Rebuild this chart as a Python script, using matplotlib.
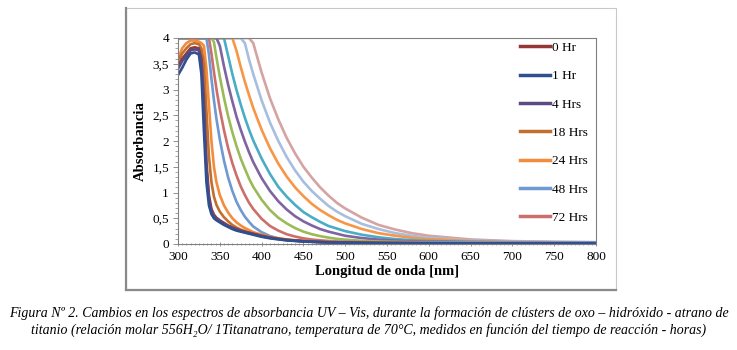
import matplotlib.pyplot as plt
from matplotlib.ticker import MultipleLocator, FuncFormatter
from matplotlib.patches import Rectangle
from matplotlib.lines import Line2D

# ---- wavelength grid (nm) ----
wl = [300, 305, 310, 315, 320, 325, 328, 331, 334, 337, 340, 343, 346, 350, 355, 360, 365,
      370, 375, 380, 385, 390, 400, 410, 420, 430, 440, 450, 460, 470, 480, 490, 500,
      520, 540, 560, 580, 600, 650, 700, 750, 800]

# ---- absorbance ----
hr0 = [3.45, 3.6, 3.7, 3.8, 3.82, 3.8, 3.6, 2.8, 1.6, 0.95, 0.68, 0.57, 0.51, 0.46, 0.41, 0.36, 0.32,
       0.29, 0.26, 0.24, 0.22, 0.2, 0.16, 0.125, 0.1, 0.08, 0.066, 0.055, 0.047, 0.04, 0.035, 0.031, 0.028,
       0.023, 0.02, 0.018, 0.016, 0.015, 0.013, 0.012, 0.011, 0.01]
hr1 = [3.28, 3.42, 3.58, 3.7, 3.72, 3.68, 3.3, 2.2, 1.2, 0.75, 0.58, 0.5, 0.46, 0.42, 0.37, 0.33, 0.29,
       0.26, 0.24, 0.22, 0.2, 0.18, 0.14, 0.11, 0.09, 0.07, 0.06, 0.05, 0.042, 0.036, 0.031, 0.027, 0.024,
       0.02, 0.017, 0.015, 0.014, 0.013, 0.011, 0.01, 0.01, 0.01]
hr4 = [3.4, 3.55, 3.65, 3.76, 3.78, 3.76, 3.5, 2.6, 1.45, 0.88, 0.64, 0.54, 0.49, 0.44, 0.39, 0.35, 0.31,
       0.28, 0.25, 0.23, 0.21, 0.19, 0.15, 0.12, 0.095, 0.075, 0.063, 0.053, 0.045, 0.038, 0.033, 0.029, 0.026,
       0.022, 0.019, 0.017, 0.015, 0.014, 0.012, 0.011, 0.01, 0.01]
hr18 = [3.55, 3.7, 3.8, 3.88, 3.9, 3.88, 3.8, 3.5, 2.6, 1.7, 1.2, 0.92, 0.76, 0.63, 0.52, 0.44, 0.37,
        0.32, 0.28, 0.25, 0.22, 0.2, 0.16, 0.13, 0.105, 0.085, 0.07, 0.058, 0.05, 0.043, 0.037, 0.033, 0.03,
        0.025, 0.022, 0.019, 0.017, 0.016, 0.014, 0.012, 0.011, 0.01]
hr24 = [3.6, 3.8, 3.9, 3.95, 3.95, 3.93, 3.9, 3.85, 3.4, 2.7, 2.0, 1.5, 1.2, 0.95, 0.75, 0.61, 0.5,
        0.42, 0.36, 0.31, 0.27, 0.23, 0.18, 0.14, 0.11, 0.09, 0.072, 0.06, 0.05, 0.044, 0.038, 0.034, 0.03,
        0.026, 0.023, 0.02, 0.018, 0.017, 0.015, 0.013, 0.012, 0.011]
hr48 = [4, 4, 4, 4, 4, 4, 4, 4, 4, 3.68, 3.21, 2.79, 2.43, 2.03, 1.62, 1.29, 1.03,
        0.82, 0.66, 0.53, 0.43, 0.34, 0.23, 0.155, 0.109, 0.08, 0.061, 0.05, 0.042, 0.038, 0.035, 0.034, 0.033,
        0.032, 0.031, 0.03, 0.03, 0.03, 0.03, 0.03, 0.03, 0.03]
hr72 = [4, 4, 4, 4, 4, 4, 4, 4, 4, 4, 3.70, 3.34, 3.01, 2.62, 2.21, 1.86, 1.57,
        1.33, 1.12, 0.95, 0.80, 0.68, 0.49, 0.35, 0.26, 0.19, 0.145, 0.11, 0.087, 0.071, 0.059, 0.05, 0.044,
        0.037, 0.034, 0.032, 0.031, 0.03, 0.03, 0.03, 0.03, 0.03]
s8 = [4, 4, 4, 4, 4, 4, 4, 4, 4, 4, 4, 3.92, 3.62, 3.25, 2.84, 2.48, 2.17,
      1.90, 1.66, 1.46, 1.27, 1.11, 0.86, 0.66, 0.51, 0.40, 0.31, 0.24, 0.19, 0.153, 0.124, 0.10, 0.085,
      0.062, 0.048, 0.041, 0.036, 0.034, 0.031, 0.03, 0.03, 0.03]
s9 = [4, 4, 4, 4, 4, 4, 4, 4, 4, 4, 4, 4, 4, 3.85, 3.45, 3.09, 2.77,
      2.47, 2.22, 1.99, 1.78, 1.59, 1.28, 1.03, 0.83, 0.67, 0.54, 0.44, 0.36, 0.29, 0.24, 0.20, 0.16,
      0.115, 0.085, 0.065, 0.052, 0.044, 0.035, 0.032, 0.031, 0.03]
s10 = [4, 4, 4, 4, 4, 4, 4, 4, 4, 4, 4, 4, 4, 4, 4, 3.65, 3.30,
       2.99, 2.71, 2.45, 2.22, 2.01, 1.66, 1.36, 1.11, 0.92, 0.76, 0.62, 0.52, 0.43, 0.35, 0.30, 0.25,
       0.18, 0.13, 0.095, 0.074, 0.059, 0.041, 0.034, 0.031, 0.03]
s11 = [4, 4, 4, 4, 4, 4, 4, 4, 4, 4, 4, 4, 4, 4, 4, 4, 4,
       3.75, 3.44, 3.15, 2.89, 2.64, 2.22, 1.86, 1.56, 1.31, 1.10, 0.93, 0.78, 0.66, 0.56, 0.47, 0.40,
       0.29, 0.21, 0.16, 0.12, 0.093, 0.056, 0.041, 0.035, 0.032]
s12 = [4, 4, 4, 4, 4, 4, 4, 4, 4, 4, 4, 4, 4, 4, 4, 4, 4,
       4, 4, 3.90, 3.58, 3.30, 2.79, 2.36, 2.00, 1.69, 1.43, 1.21, 1.03, 0.88, 0.74, 0.63, 0.54,
       0.39, 0.29, 0.21, 0.16, 0.12, 0.07, 0.047, 0.038, 0.033]
s13 = [4, 4, 4, 4, 4, 4, 4, 4, 4, 4, 4, 4, 4, 4, 4, 4, 4,
       4, 4, 4, 4, 3.90, 3.33, 2.83, 2.42, 2.06, 1.76, 1.50, 1.29, 1.10, 0.94, 0.80, 0.69,
       0.51, 0.37, 0.28, 0.21, 0.16, 0.088, 0.056, 0.042, 0.035]

labels = ['0 Hr', '1 Hr', '4 Hrs', '18 Hrs', '24 Hrs', '48 Hrs', '72 Hrs']
series = [hr0, hr1, hr4, hr18, hr24, hr48, hr72, s8, s9, s10, s11, s12, s13]
colors = ['#953735', '#2F4F8F', '#5C4A85', '#C0702E', '#F28C3C', '#6F99D0', '#CC6F6C',
          '#9BBB59', '#8064A2', '#4BACC6', '#F79646', '#A8BEDF', '#D4A3A2']
# drawing order so the dark blue sits on top of the steep group
order = [12, 11, 10, 9, 8, 7, 6, 5, 4, 3, 0, 2, 1]

serif = ['Liberation Serif', 'DejaVu Serif']
plt.rcParams['font.family'] = serif

fig = plt.figure(figsize=(7.37, 3.5), dpi=100)
W, H = 737, 350

# chart border
fig.patches.append(Rectangle((126 / W, 1 - 290 / H), 490 / W, 282 / H, transform=fig.transFigure,
                             fill=False, edgecolor='#c8c8c8', linewidth=0.8))
fig.add_artist(Line2D([126 / W, 126 / W], [1 - 290 / H, 1 - 8 / H], color='#8a8a8a', lw=1.6))
fig.add_artist(Line2D([126 / W, 616 / W], [1 - 290 / H, 1 - 290 / H], color='#8a8a8a', lw=1.6))

ax = fig.add_axes([178 / W, 1 - 244 / H, 418 / W, 206 / H])
for i in order:
    ax.plot(wl, series[i], color=colors[i], lw=1.9, solid_joinstyle='round',
            label=labels[i] if i < 7 else None)

ax.set_xlim(300, 800)
ax.set_ylim(0, 4)
ax.xaxis.set_major_locator(MultipleLocator(50))
ax.xaxis.set_minor_locator(MultipleLocator(5))
ax.yaxis.set_major_locator(MultipleLocator(0.5))
ax.yaxis.set_minor_locator(MultipleLocator(0.1))
ax.yaxis.set_major_formatter(FuncFormatter(lambda v, p: ('%g' % v).replace('.', ',')))
ax.tick_params(axis='both', which='major', labelsize=9.5, length=3.5, width=0.6, color='#808080', pad=3)
ax.tick_params(axis='both', which='minor', length=2, width=0.5, color='#808080')
ax.tick_params(axis='x', which='both', direction='inout')
for sp in ax.spines.values():
    sp.set_color('#808080')
    sp.set_linewidth(0.8)

ax.set_xlabel('Longitud de onda [nm]', fontsize=10.5, fontweight='bold', labelpad=2)
ax.set_ylabel('Absorbancia', fontsize=10.5, fontweight='bold', labelpad=4)

handles, labs = ax.get_legend_handles_labels()
pick = [labs.index(l) for l in labels]
leg = ax.legend([handles[k] for k in pick], labels, loc='upper left', bbox_to_anchor=(0.818, 0.982),
                frameon=False, fontsize=9.5, labelspacing=1.22, handlelength=2.3, handletextpad=0.15,
                borderpad=0, borderaxespad=0)
for line in leg.get_lines():
    line.set_linewidth(2.5)

fig.text(0.5, 1 - 313 / H,
         'Figura Nº 2. Cambios en los espectros de absorbancia UV – Vis, durante la formación de clústers de oxo – hidróxido - atrano de',
         ha='center', va='center', fontsize=10, style='italic')
fig.text(0.5, 1 - 330 / H,
         'titanio (relación molar 556H₂O/ 1Titanatrano, temperatura de 70°C, medidos en función del tiempo de reacción - horas)',
         ha='center', va='center', fontsize=10, style='italic')

fig.savefig('out.png', dpi=100)
